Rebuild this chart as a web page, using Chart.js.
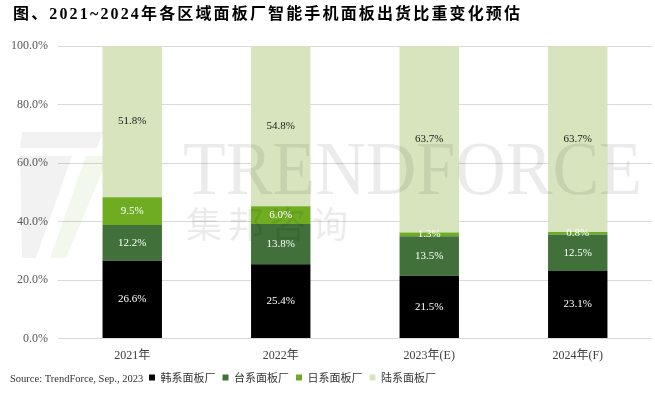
<!DOCTYPE html>
<html>
<head>
<meta charset="utf-8">
<script src="https://cdn.jsdelivr.net/npm/chart.js@4.4.0/dist/chart.umd.min.js"></script>
<style>
  html, body { margin: 0; padding: 0; background: #fff; }
  #wrap { width: 655px; height: 393px; }
</style>
</head>
<body>
<div id="wrap"><canvas id="chart"></canvas></div>
<script>
const categories = ["2021年", "2022年", "2023年(E)", "2024年(F)"];
const seriesNames = ["韩系面板厂", "台系面板厂", "日系面板厂", "陆系面板厂"];
const korea = [26.6, 25.4, 21.5, 23.1];
const taiwan = [12.2, 13.8, 13.5, 12.5];
const japan = [9.5, 6.0, 1.3, 0.8];
const china = [51.8, 54.8, 63.7, 63.7];
const yTicks = [0, 20, 40, 60, 80, 100];

const titleText = "图、2021~2024年各区域面板厂智能手机面板出货比重变化预估";
const sourceText = "Source: TrendForce, Sep., 2023";

const colors = ["#000000", "#41703A", "#6FAC22", "#D7E4BD"];
const labelColors = ["#ffffff", "#ffffff", "#ffffff", "#1a1a1a"];
const serif = '"Liberation Serif", "Noto Sans CJK SC", serif';

// title, watermark, value labels and source note
const extras = {
  id: "extras",
  afterLayout(chart) {
    chart.legend.left = 142;
  },
  afterDatasetsDraw(chart) {
    const ctx = chart.ctx;
    ctx.save();

    // TrendForce watermark
    ctx.fillStyle = "rgba(0,0,0,0.05)";
    ctx.beginPath();
    ctx.moveTo(22, 132); ctx.lineTo(103, 132); ctx.lineTo(97, 148); ctx.lineTo(20, 148);
    ctx.closePath(); ctx.fill();
    ctx.beginPath();
    ctx.moveTo(20, 156); ctx.lineTo(72, 156); ctx.lineTo(36, 258); ctx.lineTo(22, 258);
    ctx.closePath(); ctx.fill();
    ctx.fillStyle = "rgba(140,185,80,0.10)";
    ctx.beginPath();
    ctx.moveTo(86, 156); ctx.lineTo(103, 156); ctx.lineTo(103, 170); ctx.lineTo(66, 258); ctx.lineTo(50, 258);
    ctx.closePath(); ctx.fill();

    ctx.fillStyle = "rgba(0,0,0,0.08)";
    ctx.font = '76px "Liberation Serif", serif';
    ctx.textBaseline = "alphabetic";
    ctx.textAlign = "left";
    const wm = "TRENDFORCE";
    const w = ctx.measureText(wm).width;
    ctx.save();
    ctx.translate(183, 194);
    ctx.scale(459 / w, 1);
    ctx.fillText(wm, 0, 0);
    ctx.restore();
    ctx.font = '36px "Noto Sans CJK SC", sans-serif';
    ctx.textBaseline = "middle";
    "集邦咨询".split("").forEach((c, i) => ctx.fillText(c, 186 + i * 42, 224));

    // value labels
    ctx.font = "11px " + serif;
    ctx.textAlign = "center";
    ctx.textBaseline = "middle";
    chart.data.datasets.forEach((ds, di) => {
      const meta = chart.getDatasetMeta(di);
      meta.data.forEach((bar, i) => {
        const p = bar.getProps(["x", "y", "base"], true);
        ctx.fillStyle = labelColors[di];
        ctx.fillText(ds.data[i].toFixed(1) + "%", p.x, (p.y + p.base) / 2);
      });
    });

    ctx.restore();
  },
  afterDraw(chart) {
    const ctx = chart.ctx;
    ctx.save();
    ctx.textAlign = "left";
    ctx.textBaseline = "middle";

    ctx.font = "bold 16px " + serif;
    ctx.fillStyle = "#000000";
    const tw = ctx.measureText(titleText).width;
    ctx.letterSpacing = Math.max(0, (507 - tw) / (titleText.length - 1)) + "px";
    ctx.fillText(titleText, 13, 15);
    ctx.letterSpacing = "0px";

    ctx.font = "10.5px " + serif;
    ctx.fillStyle = "#333333";
    ctx.fillText(sourceText, 10, 379);
    ctx.restore();
  }
};

const seriesData = [korea, taiwan, japan, china];

new Chart(document.getElementById("chart"), {
  type: "bar",
  data: {
    labels: categories,
    datasets: seriesNames.map((name, i) => ({
      label: name,
      data: seriesData[i],
      backgroundColor: colors[i],
      borderWidth: 0,
      categoryPercentage: 0.8,
      barPercentage: 0.5,
    })),
  },
  options: {
    responsive: true,
    maintainAspectRatio: false,
    animation: false,
    layout: { padding: { top: 46, right: 3, bottom: 0, left: 0 } },
    plugins: {
      title: { display: false },
      legend: {
        position: "bottom",
        align: "start",
        labels: {
          boxWidth: 6,
          boxHeight: 6,
          padding: 7,
          color: "#333333",
          font: { family: '"Noto Sans CJK SC", sans-serif', size: 11 },
        },
      },
      tooltip: { enabled: false },
    },
    scales: {
      x: {
        stacked: true,
        grid: { display: false },
        border: { display: false },
        ticks: { color: "#404040", padding: 2, font: { family: serif, size: 12 } },
      },
      y: {
        stacked: true,
        min: 0,
        max: 100,
        afterBuildTicks(scale) {
          scale.ticks = yTicks.map(v => ({ value: v }));
        },
        afterFit(scale) {
          scale.width = 58;
        },
        grid: { color: "#d9d9d9", drawTicks: false },
        border: { display: false },
        ticks: {
          color: "#595959",
          padding: 10,
          font: { family: serif, size: 12 },
          callback: v => v.toFixed(1) + "%",
        },
      },
    },
  },
  plugins: [extras],
});
</script>
</body>
</html>
